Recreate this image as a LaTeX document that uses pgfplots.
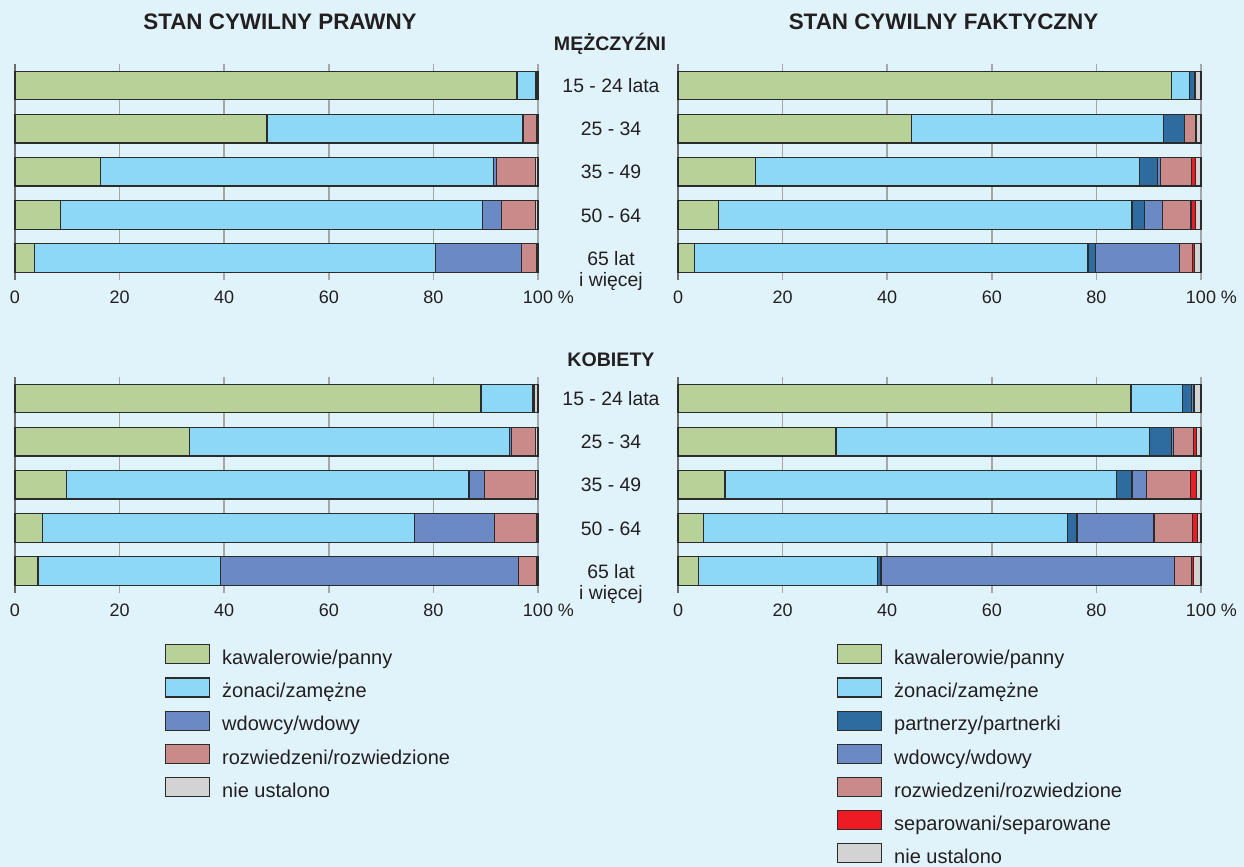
\documentclass[border=0pt]{standalone}
\usepackage{pgfplots}
\pgfplotsset{compat=1.18}
\usepackage{pgfplotstable}
\usepackage{fontspec}
\setmainfont{Liberation Sans}

\definecolor{bg}{HTML}{E0F3FB}
\definecolor{txt}{HTML}{231F20}
\definecolor{gridc}{HTML}{A3A7AA}
\definecolor{barline}{HTML}{2B2B2B}
\definecolor{cgreen}{HTML}{B8D198}
\definecolor{cblue}{HTML}{8DD8F7}
\definecolor{cpart}{HTML}{2E6B9F}
\definecolor{cwid}{HTML}{6B89C5}
\definecolor{crozw}{HTML}{C98A89}
\definecolor{csep}{HTML}{ED1C24}
\definecolor{cnie}{HTML}{D3D3D3}

% Men, legal marital status
\pgfplotstableread{
cat kaw zon wdo roz nie
1 96.0 3.5 0.0 0.1 0.4
2 48.2 48.9 0.1 2.5 0.3
3 16.4 75.1 0.5 7.5 0.5
4 8.7 80.7 3.6 6.5 0.5
5 3.7 76.7 16.5 2.8 0.3
}\menLegal
% Men, actual marital status
\pgfplotstableread{
cat kaw zon par wdo roz sep nie
1 94.3 3.5 0.9 0.0 0.2 0.1 1.0
2 44.7 48.1 4.0 0.1 2.0 0.3 0.8
3 14.8 73.5 3.4 0.5 6.0 0.8 1.0
4 7.8 79.0 2.4 3.4 5.5 0.9 1.0
5 3.2 75.2 1.4 16.1 2.5 0.4 1.2
}\menFact
% Women, legal marital status
\pgfplotstableread{
cat kaw zon wdo roz nie
1 89.1 9.9 0.1 0.2 0.7
2 33.3 61.2 0.5 4.5 0.5
3 9.9 76.9 3.0 9.7 0.5
4 5.3 71.1 15.3 8.0 0.3
5 4.4 34.9 56.9 3.5 0.3
}\womLegal
% Women, actual marital status
\pgfplotstableread{
cat kaw zon par wdo roz sep nie
1 86.6 9.9 1.7 0.3 0.2 0.1 1.2
2 30.2 60.0 4.2 0.3 3.9 0.5 0.9
3 9.0 74.8 3.0 2.8 8.4 1.1 0.9
4 4.9 69.5 1.9 14.7 7.4 0.9 0.7
5 3.9 34.2 0.7 56.2 3.2 0.3 1.5
}\womFact

\pgfplotsset{
  panel/.style={
    xbar stacked, scale only axis,
    width=261.5pt, height=107.75pt,
    xmin=0, xmax=100, ymin=0.5, ymax=5.5, y dir=reverse,
    bar width=14.3pt,
    axis line style={draw=none}, tick style={draw=none},
    ytick=\empty,
    xtick={0,20,40,60,80,100},
    xticklabels={0,20,40,60,80,100\rlap{ \%}},
    xmajorgrids, grid style={draw=gridc, line width=0.75pt},
    extra x ticks={0}, extra x tick labels={},
    extra x tick style={grid style={draw=gray!85!black, line width=1pt}},
    xticklabel style={font=\fontsize{9}{10}\selectfont, text=txt, yshift=-2pt},
    /pgf/number format/assume math mode=true,
    every axis plot/.append style={draw=barline, line width=0.6pt},
    clip=false,
    anchor=north west,
  },
  lg/.style={legend image code/.code={\draw[##1, line width=0.6pt] (0pt,-2.5pt) rectangle (22pt,7pt);}},
  legstyle/.style={
    legend cell align=left,
    legend style={at={(#1,-0.24)}, anchor=north west, draw=none, fill=none,
      inner sep=0pt, outer sep=0pt, row sep=4.9pt, column sep=6pt,
      font=\fontsize{10}{12}\selectfont, text=txt, nodes={inner sep=0pt}},
  },
}

\newcommand\catlab{\fontsize{9.7}{11}\selectfont}

\begin{document}
\begin{tikzpicture}[text=txt]
\path[use as bounding box, fill=bg] (0,0) rectangle (622pt,-433.5pt);

\node[anchor=base, font=\bfseries\fontsize{11.2}{13}\selectfont] at (140pt,-15pt) {STAN CYWILNY PRAWNY};
\node[anchor=base, font=\bfseries\fontsize{11.2}{13}\selectfont] at (471.75pt,-15pt) {STAN CYWILNY FAKTYCZNY};
\node[anchor=base, font=\bfseries\fontsize{9.8}{12}\selectfont] at (305pt,-25.3pt) {MĘŻCZYŹNI};
\node[anchor=base, font=\bfseries\fontsize{9.8}{12}\selectfont] at (305.5pt,-183pt) {KOBIETY};

% Top-left: men, legal
\begin{axis}[panel, at={(7.5pt,-32pt)}]
\addplot[fill=cgreen] table[x=kaw,y=cat] {\menLegal};
\addplot[fill=cblue] table[x=zon,y=cat] {\menLegal};
\addplot[fill=cwid] table[x=wdo,y=cat] {\menLegal};
\addplot[fill=crozw] table[x=roz,y=cat] {\menLegal};
\addplot[fill=cnie] table[x=nie,y=cat] {\menLegal};
\node[anchor=base, font=\catlab, yshift=-3.6pt] at (axis cs:113.96,1) {15 - 24 lata};
\node[anchor=base, font=\catlab, yshift=-3.6pt] at (axis cs:113.96,2) {25 - 34};
\node[anchor=base, font=\catlab, yshift=-3.6pt] at (axis cs:113.96,3) {35 - 49};
\node[anchor=base, font=\catlab, yshift=-3.6pt] at (axis cs:113.96,4) {50 - 64};
\node[anchor=base, font=\catlab, yshift=-3.75pt] at (axis cs:113.96,5) {65 lat};
\node[anchor=base, font=\catlab, yshift=-14.25pt] at (axis cs:113.96,5) {i więcej};
\end{axis}

% Top-right: men, actual
\begin{axis}[panel, at={(339pt,-32pt)}]
\addplot[fill=cgreen] table[x=kaw,y=cat] {\menFact};
\addplot[fill=cblue] table[x=zon,y=cat] {\menFact};
\addplot[fill=cpart] table[x=par,y=cat] {\menFact};
\addplot[fill=cwid] table[x=wdo,y=cat] {\menFact};
\addplot[fill=crozw] table[x=roz,y=cat] {\menFact};
\addplot[fill=csep] table[x=sep,y=cat] {\menFact};
\addplot[fill=cnie] table[x=nie,y=cat] {\menFact};
\end{axis}

% Bottom-left: women, legal
\begin{axis}[panel, at={(7.5pt,-188.5pt)}, legstyle=0.2868]
\addplot[fill=cgreen, lg] table[x=kaw,y=cat] {\womLegal};
\addplot[fill=cblue, lg] table[x=zon,y=cat] {\womLegal};
\addplot[fill=cwid, lg] table[x=wdo,y=cat] {\womLegal};
\addplot[fill=crozw, lg] table[x=roz,y=cat] {\womLegal};
\addplot[fill=cnie, lg] table[x=nie,y=cat] {\womLegal};
\legend{kawalerowie/panny, żonaci/zamężne, wdowcy/wdowy, rozwiedzeni/rozwiedzione, nie ustalono}
\node[anchor=base, font=\catlab, yshift=-3.6pt] at (axis cs:113.96,1) {15 - 24 lata};
\node[anchor=base, font=\catlab, yshift=-3.6pt] at (axis cs:113.96,2) {25 - 34};
\node[anchor=base, font=\catlab, yshift=-3.6pt] at (axis cs:113.96,3) {35 - 49};
\node[anchor=base, font=\catlab, yshift=-3.6pt] at (axis cs:113.96,4) {50 - 64};
\node[anchor=base, font=\catlab, yshift=-3.75pt] at (axis cs:113.96,5) {65 lat};
\node[anchor=base, font=\catlab, yshift=-14.25pt] at (axis cs:113.96,5) {i więcej};
\end{axis}

% Bottom-right: women, actual
\begin{axis}[panel, at={(339pt,-188.5pt)}, legstyle=0.304]
\addplot[fill=cgreen, lg] table[x=kaw,y=cat] {\womFact};
\addplot[fill=cblue, lg] table[x=zon,y=cat] {\womFact};
\addplot[fill=cpart, lg] table[x=par,y=cat] {\womFact};
\addplot[fill=cwid, lg] table[x=wdo,y=cat] {\womFact};
\addplot[fill=crozw, lg] table[x=roz,y=cat] {\womFact};
\addplot[fill=csep, lg] table[x=sep,y=cat] {\womFact};
\addplot[fill=cnie, lg] table[x=nie,y=cat] {\womFact};
\legend{kawalerowie/panny, żonaci/zamężne, partnerzy/partnerki, wdowcy/wdowy, rozwiedzeni/rozwiedzione, separowani/separowane, nie ustalono}
\end{axis}
\end{tikzpicture}
\end{document}
